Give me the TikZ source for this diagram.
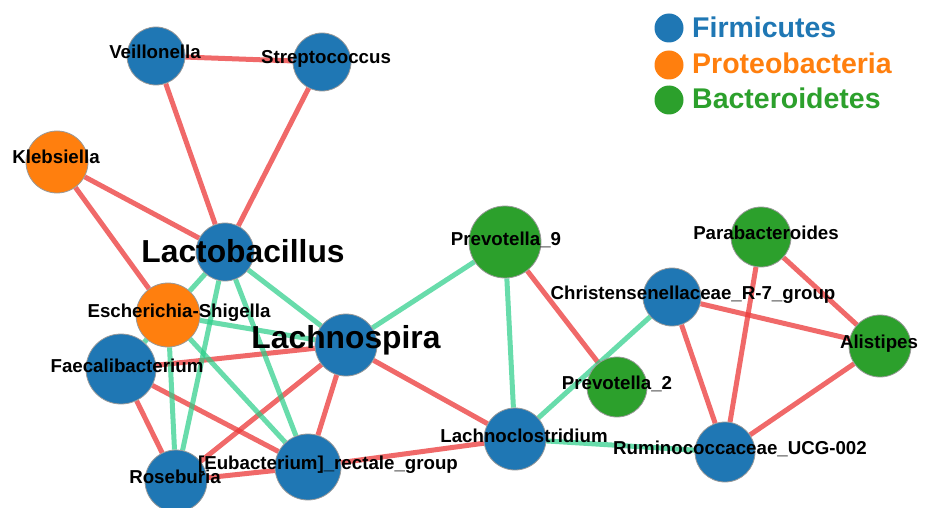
\documentclass[tikz,border=0pt]{standalone}
\usepackage{fontspec}
\setmainfont{Liberation Sans}
\pgfdeclarelayer{bg}
\pgfsetlayers{bg,main}
\definecolor{firm}{RGB}{31,119,180}
\definecolor{prot}{RGB}{255,127,14}
\definecolor{bact}{RGB}{44,160,44}
\definecolor{negc}{RGB}{235,55,55}
\definecolor{posc}{RGB}{40,205,135}
\tikzset{
  otu/.style={circle,draw=gray!80,line width=0.8pt,inner sep=0pt,minimum size=#1},
  fi/.style={otu=#1,fill=firm},
  pr/.style={otu=#1,fill=prot},
  ba/.style={otu=#1,fill=bact},
  neglink/.style={draw=negc,line width=5pt,opacity=0.75},
  poslink/.style={draw=posc,line width=5pt,opacity=0.7},
  lbl/.style={anchor=base,inner sep=0pt,font=\fontsize{18.7}{20}\selectfont\bfseries},
  big/.style={anchor=base,inner sep=0pt,font=\fontsize{31.8}{34}\selectfont\bfseries},
  leg/.style={anchor=base west,inner sep=0pt,font=\fontsize{28.5}{30}\selectfont\bfseries},
}
\begin{document}
\begin{tikzpicture}[x=1pt,y=-1pt]
\useasboundingbox (0,0) rectangle (926,508);
% nodes
\node[fi=58pt] (veil) at (156,56) {};
\node[fi=58pt] (strep) at (322,62) {};
\node[pr=62pt] (kleb) at (57,162) {};
\node[fi=58pt] (lacto) at (225,252) {};
\node[pr=64pt] (esch) at (168,315) {};
\node[fi=62pt] (lachno) at (346,345) {};
\node[fi=70pt] (faec) at (121,369) {};
\node[fi=62pt] (rose) at (176,481) {};
\node[fi=66pt] (eub) at (308,467) {};
\node[ba=72pt] (prevn) at (505,242) {};
\node[ba=60pt] (prevt) at (617,387) {};
\node[fi=62pt] (lclost) at (515,439) {};
\node[fi=58pt] (chris) at (672,297) {};
\node[ba=60pt] (para) at (761,237) {};
\node[ba=62pt] (ali) at (880,346) {};
\node[fi=60pt] (rum) at (725,452) {};
% edges
\begin{pgfonlayer}{bg}
\draw[neglink] (veil) -- (strep);
\draw[neglink] (veil) -- (lacto);
\draw[neglink] (strep) -- (lacto);
\draw[neglink] (kleb) -- (lacto);
\draw[neglink] (kleb) -- (esch);
\draw[neglink] (lachno) -- (faec);
\draw[neglink] (faec) -- (rose);
\draw[neglink] (faec) -- (eub);
\draw[neglink] (lachno) -- (rose);
\draw[neglink] (lachno) -- (eub);
\draw[neglink] (lachno) -- (lclost);
\draw[neglink] (rose) -- (eub);
\draw[neglink] (eub) -- (lclost);
\draw[neglink] (prevn) -- (prevt);
\draw[neglink] (chris) -- (ali);
\draw[neglink] (chris) -- (rum);
\draw[neglink] (para) -- (ali);
\draw[neglink] (para) -- (rum);
\draw[neglink] (ali) -- (rum);
\draw[poslink] (lacto) -- (esch);
\draw[poslink] (lacto) -- (lachno);
\draw[poslink] (lacto) -- (rose);
\draw[poslink] (lacto) -- (eub);
\draw[poslink] (esch) -- (lachno);
\draw[poslink] (esch) -- (rose);
\draw[poslink] (esch) -- (eub);
\draw[poslink] (esch) -- (faec);
\draw[poslink] (lachno) -- (prevn);
\draw[poslink] (prevn) -- (lclost);
\draw[poslink] (chris) -- (lclost);
\draw[poslink] (lclost) -- (rum);
\end{pgfonlayer}
% labels
\node[lbl] (tveil) at (155,59) {Veillonella};
\node[lbl] (tstrep) at (326,64) {Streptococcus};
\node[lbl] (tkleb) at (56,164) {Klebsiella};
\node[big] (tlacto) at (243,262) {Lactobacillus};
\node[lbl] (tesch) at (179,317) {Escherichia-Shigella};
\node[big] (tlachno) at (346,348) {Lachnospira};
\node[lbl] (tfaec) at (127,372) {Faecalibacterium};
\node[lbl] (trose) at (175,483) {Roseburia};
\node[lbl] (teub) at (328,469) {[Eubacterium]\_rectale\_group};
\node[lbl] (tprevn) at (506,245) {Prevotella\_9};
\node[lbl] (tprevt) at (617,389) {Prevotella\_2};
\node[lbl] (tlclost) at (524,442) {Lachnoclostridium};
\node[lbl] (tchris) at (693,299) {Christensenellaceae\_R-7\_group};
\node[lbl] (tpara) at (766,239) {Parabacteroides};
\node[lbl] (tali) at (879,348) {Alistipes};
\node[lbl] (trum) at (740,454) {Ruminococcaceae\_UCG-002};
% legend
\node[circle,fill=firm,inner sep=0pt,minimum size=29pt] (lfirm) at (669,28) {};
\node[circle,fill=prot,inner sep=0pt,minimum size=29pt] (lprot) at (669,65) {};
\node[circle,fill=bact,inner sep=0pt,minimum size=29pt] (lbact) at (669,100) {};
\node[leg,text=firm] (tfirm) at (692,38) {Firmicutes};
\node[leg,text=prot] (tprot) at (692,74) {Proteobacteria};
\node[leg,text=bact] (tbact) at (692,109) {Bacteroidetes};
\end{tikzpicture}
\end{document}
